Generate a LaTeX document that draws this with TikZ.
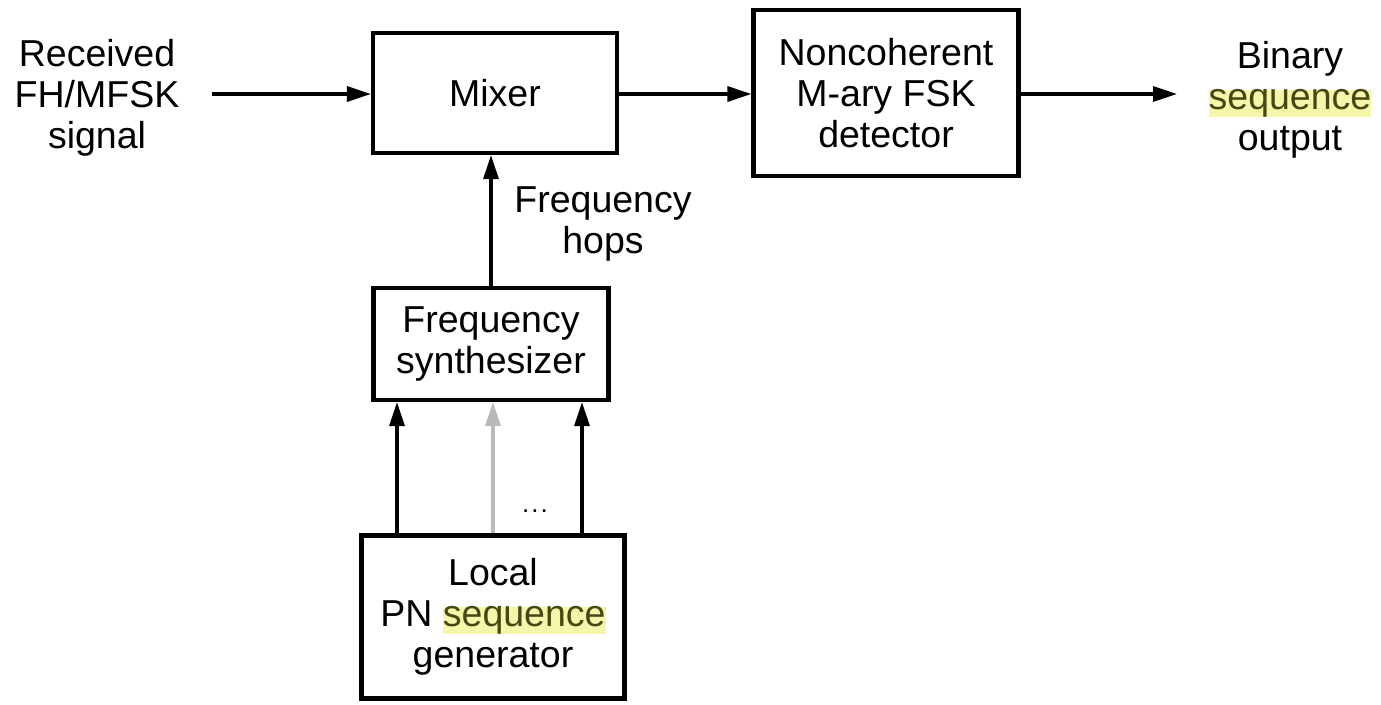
\documentclass[tikz,border=0pt]{standalone}
\usepackage{fontspec}
\setmainfont{Liberation Sans}
\usetikzlibrary{arrows.meta,calc}
\definecolor{hl}{RGB}{246,246,170}
\definecolor{hltext}{RGB}{70,72,20}
\newcommand{\hlword}[1]{{\setlength{\fboxsep}{0pt}\colorbox{hl}{\color{hltext}#1}}}
\tikzset{
  blk/.style={draw, line width=4.2pt, align=center, inner sep=0pt},
  lbl/.style={align=center, inner sep=0pt},
  arr/.style={line width=3.3pt, -{Triangle[length=24pt,width=15pt]}},
}
\begin{document}
\begin{tikzpicture}[x=1pt,y=-1pt,font=\fontsize{37.5}{41}\selectfont]
\useasboundingbox (0,0) rectangle (1381,704);
\node[blk, minimum width=244pt, minimum height=120pt] (mix) at (495,93) {Mixer};
\node[blk, minimum width=265pt, minimum height=166pt] (det) at (886,93) {Noncoherent\\M-ary FSK\\detector};
\node[blk, minimum width=235pt, minimum height=112pt] (syn) at (491,344) {Frequency\\synthesizer};
\node[blk, minimum width=263pt, minimum height=163pt] (pn) at (493,617) {Local\\PN \hlword{sequence}\\generator};
\node[lbl] (in) at (97,98) {Received\\FH/MFSK\\signal};
\node[lbl] (out) at (1290,100) {Binary\\\hlword{sequence}\\output};
\node[lbl] (hops) at (603,224) {Frequency\\hops};
\node[lbl, anchor=base] (dots) at (535,512) {\fontsize{26}{26}\selectfont .\kern2pt.\kern2pt.};
\coordinate (inS) at (212,94);
\coordinate (outE) at (1177,94);
\draw[arr] (inS) -- (inS -| mix.west);
\draw[arr] (mix.east |- inS) -- (det.west |- inS);
\draw[arr] (det.east |- outE) -- (outE);
\draw[arr] (syn.north) -- (syn.north |- mix.south);
\draw[arr] ([xshift=-96pt]pn.north) -- ([xshift=-96pt]pn.north |- syn.south);
\draw[arr, draw=gray!55, fill=gray!55] ([xshift=0pt]pn.north) -- ([xshift=0pt]pn.north |- syn.south);
\draw[arr] ([xshift=89pt]pn.north) -- ([xshift=89pt]pn.north |- syn.south);
\end{tikzpicture}
\end{document}
